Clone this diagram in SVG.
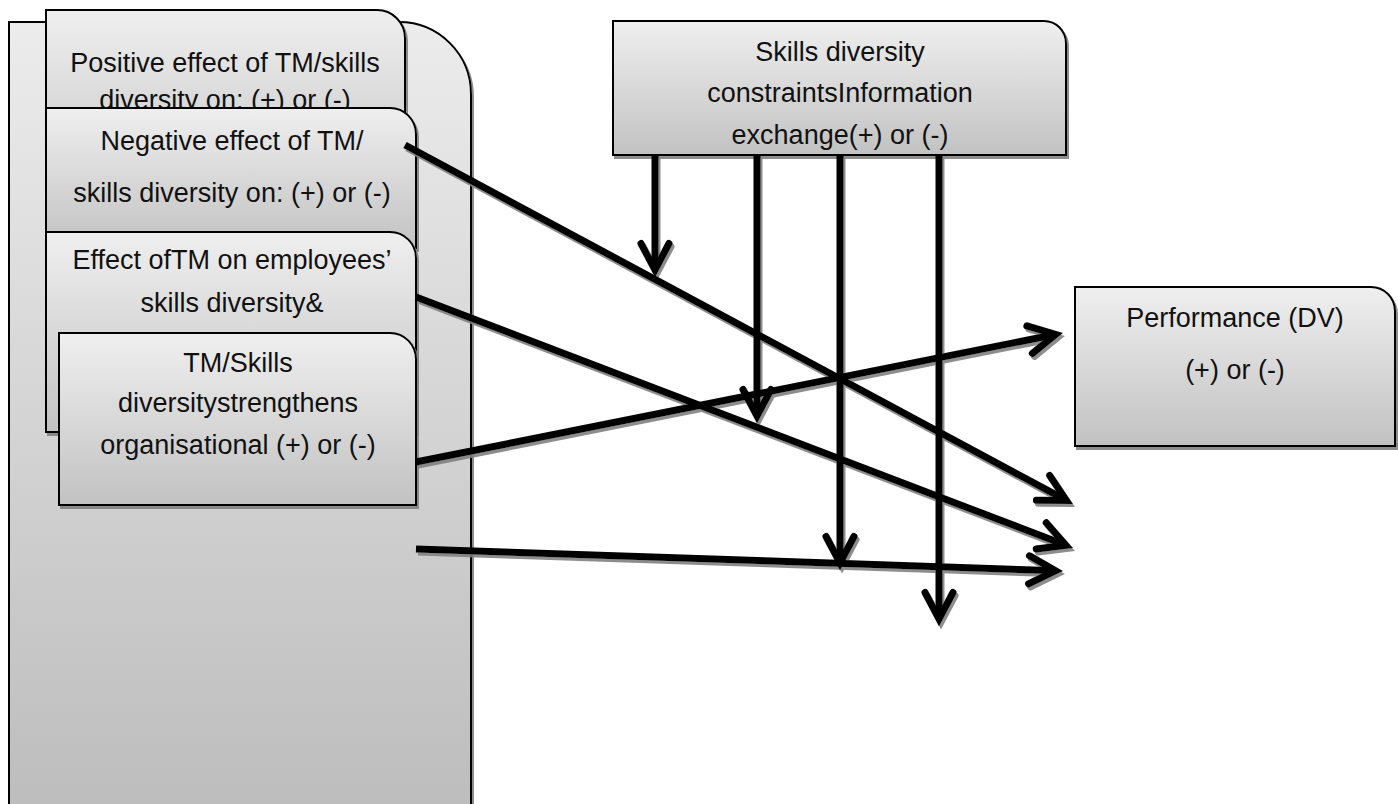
<svg xmlns="http://www.w3.org/2000/svg" width="1398" height="804" viewBox="0 0 1398 804">
<style>
.box{stroke:#000;stroke-width:2;filter:url(#sh)}
.t{font-family:"Liberation Sans",Arial,sans-serif;font-size:27px;fill:#111;text-anchor:middle}
.c{fill:none;stroke:#000;stroke-width:7;marker-end:url(#ah)}
</style>
<defs>
<linearGradient id="g" x1="0" y1="0" x2="0" y2="1">
<stop offset="0" stop-color="#efefef"/><stop offset="1" stop-color="#c2c2c2"/>
</linearGradient>
<linearGradient id="gb" x1="0" y1="0" x2="0" y2="1">
<stop offset="0" stop-color="#ececec"/><stop offset="1" stop-color="#bbbbbb"/>
</linearGradient>
<filter id="sh" x="-5%" y="-5%" width="115%" height="115%">
<feDropShadow dx="2" dy="3" stdDeviation="0.5" flood-color="#808080" flood-opacity="0.9"/>
</filter>
<marker id="ah" markerUnits="userSpaceOnUse" markerWidth="80" markerHeight="80" refX="0" refY="0" orient="auto" overflow="visible">
<path d="M-26.5,-14 L0,0 L-26.5,14" fill="none" stroke="#000" stroke-width="7" stroke-linecap="round" stroke-linejoin="miter"/>
</marker>
<clipPath id="clipTop"><path d="M613,21 H1044 A22,22 0 0 1 1066,43 V155 H613 Z"/></clipPath>
</defs>
<rect width="1398" height="804" fill="#fff"/>

<g id="container">
<path class="box" fill="url(#gb)" d="M9,22 H399 A72,72 0 0 1 471,94 V840 H9 Z"/>
</g>

<g id="positive-effect">
<path class="box" fill="url(#g)" d="M46,10 H377 A28,28 0 0 1 405,38 V210 H46 Z"/>
<text class="t" x="225" y="72">Positive effect of TM/skills</text>
<text class="t" x="225" y="109">diversity on: (+) or (-)</text>
</g>

<g id="negative-effect">
<path class="box" fill="url(#g)" d="M46,108 H390 A26,26 0 0 1 416,134 V248 H46 Z"/>
<text class="t" x="232" y="150">Negative effect of TM/</text>
<text class="t" x="232" y="202">skills diversity on: (+) or (-)</text>
</g>

<g id="effect-tm">
<path class="box" fill="url(#g)" d="M46,232 H390 A26,26 0 0 1 416,258 V432 H46 Z"/>
<text class="t" x="232" y="269">Effect ofTM on employees’</text>
<text class="t" x="232" y="312">skills diversity&amp;</text>
</g>

<g id="strengthens">
<path class="box" fill="url(#g)" d="M59,333 H390 A26,26 0 0 1 416,359 V505 H59 Z"/>
<text class="t" x="238" y="372">TM/Skills</text>
<text class="t" x="238" y="412">diversitystrengthens</text>
<text class="t" x="238" y="454">organisational (+) or (-)</text>
</g>

<g id="skills-constraints">
<path class="box" fill="url(#g)" d="M613,21 H1044 A22,22 0 0 1 1066,43 V155 H613 Z"/>
<g clip-path="url(#clipTop)">
<text class="t" x="840" y="61">Skills diversity</text>
<text class="t" x="840" y="102">constraintsInformation</text>
<text class="t" x="840" y="144">exchange(+) or (-)</text>
</g>
</g>

<g id="performance">
<path class="box" fill="url(#g)" d="M1075,287 H1371 A24,24 0 0 1 1395,311 V446 H1075 Z"/>
<text class="t" x="1235" y="327">Performance (DV)</text>
<text class="t" x="1235" y="379">(+) or (-)</text>
</g>

<g id="connectors" filter="url(#sh)">
<line class="c" x1="405" y1="145" x2="1066.4" y2="500.4"/>
<line class="c" x1="416" y1="297" x2="1066" y2="545.3"/>
<line class="c" x1="416" y1="462" x2="1055.6" y2="334.5"/>
<line class="c" x1="416" y1="549" x2="1055.5" y2="570.7"/>
<line class="c" x1="655" y1="155" x2="655" y2="270"/>
<line class="c" x1="757" y1="155" x2="757" y2="416"/>
<line class="c" x1="840" y1="155" x2="840" y2="563"/>
<line class="c" x1="939" y1="155" x2="939" y2="619"/>
</g>
</svg>
